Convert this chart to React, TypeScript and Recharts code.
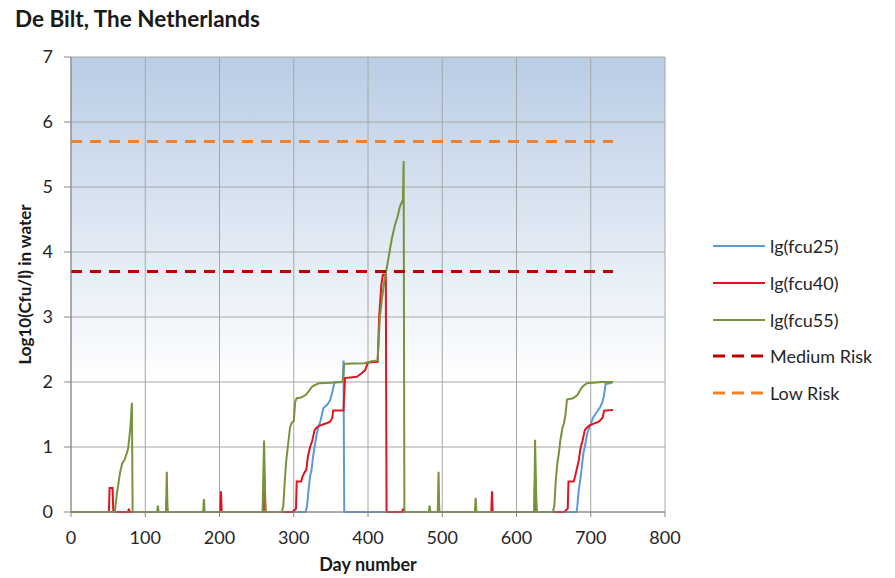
import React from 'react';
import { LineChart, Line, XAxis, YAxis, CartesianGrid } from 'recharts';

const title = 'De Bilt, The Netherlands';
const xTicks = [0, 100, 200, 300, 400, 500, 600, 700, 800];
const yTicks = [0, 1, 2, 3, 4, 5, 6, 7];

// [day, log10(cfu/l)]
const fcu25: [number, number][] = [
  [0, 0], [316, 0], [318, 0.1], [320, 0.35], [322, 0.55], [324, 0.65], [326, 0.85], [328, 1.0], [331, 1.2],
  [333, 1.3], [336, 1.4], [338, 1.5], [340, 1.6], [345, 1.65], [349, 1.72], [352, 1.85], [355, 2.0], [366, 2.0],
  [367, 2.33], [368, 0], [681, 0], [682, 0.1], [684, 0.35], [686.5, 0.55], [688, 0.7], [690, 0.9], [692, 1.0],
  [695, 1.2], [698, 1.3], [700, 1.35], [703, 1.45], [706, 1.5], [709, 1.55], [713, 1.62], [716, 1.7], [718, 1.8],
  [720, 1.97], [726, 1.98], [730, 2.0],
];

const fcu40: [number, number][] = [
  [0, 0], [51, 0], [52, 0.37], [56, 0.37], [57, 0], [77, 0], [78, 0.05], [79, 0], [128, 0], [129, 0.18], [130, 0],
  [201, 0], [202, 0.32], [203, 0], [259, 0], [260, 0.6], [262, 0], [298, 0], [300, 0.02], [303, 0.05], [304, 0.47],
  [310, 0.47], [312, 0.55], [315, 0.62], [317, 0.65], [319, 0.85], [322, 1.0], [325, 1.1], [328, 1.26], [331, 1.3],
  [335, 1.33], [340, 1.35], [345, 1.37], [349, 1.39], [352, 1.45], [353, 1.56], [367, 1.56], [369, 2.06],
  [385, 2.08], [391, 2.13], [396, 2.18], [400, 2.3], [413, 2.31], [415, 3.0], [418, 3.5], [420, 3.65], [424, 3.65],
  [425, 0], [446, 0], [447, 0.05], [448, 0], [494, 0], [495, 0.2], [496, 0], [566, 0], [567, 0.32], [568, 0],
  [624, 0], [625, 0.6], [627, 0], [664, 0], [666, 0.02], [669, 0.05], [670, 0.47], [677, 0.47], [679, 0.55],
  [681, 0.65], [684, 0.8], [686, 0.97], [689, 1.1], [692, 1.26], [695, 1.3], [698, 1.33], [704, 1.36], [711, 1.39],
  [716, 1.45], [718, 1.56], [730, 1.57],
];

const fcu55: [number, number][] = [
  [0, 0], [59, 0], [60, 0.1], [62, 0.3], [64, 0.45], [66, 0.6], [69, 0.75], [72, 0.8], [75, 0.9], [77, 0.98],
  [80, 1.3], [82, 1.68], [83, 0], [116, 0], [117, 0.1], [118, 0], [128, 0], [129, 0.62], [130, 0], [178, 0],
  [179, 0.2], [180, 0], [258, 0], [260, 1.1], [262, 0], [284, 0], [286, 0.1], [288, 0.5], [290, 0.8], [293, 1.1],
  [295, 1.3], [297, 1.37], [300, 1.4], [302, 1.7], [304, 1.75], [310, 1.76], [316, 1.8], [320, 1.85], [324, 1.92],
  [328, 1.95], [334, 1.98], [350, 1.99], [366, 2.0], [368, 2.28], [395, 2.29], [405, 2.32], [413, 2.33], [416, 3.0],
  [419, 3.3], [422, 3.55], [426, 3.8], [429, 4.0], [432, 4.2], [436, 4.4], [440, 4.55], [443, 4.7], [447, 4.8],
  [448, 5.4], [449, 0], [482, 0], [483, 0.1], [484, 0], [494, 0], [495, 0.62], [496, 0], [544, 0], [545, 0.22],
  [546, 0], [624, 0], [625, 1.11], [627, 0], [649, 0], [651, 0.1], [653, 0.5], [655, 0.75], [657, 0.9], [659, 1.1],
  [662, 1.3], [664, 1.37], [666, 1.5], [668, 1.73], [676, 1.75], [682, 1.8], [686, 1.88], [689, 1.93], [695, 1.98],
  [715, 2.0], [730, 2.0],
];

const mediumRisk: [number, number][] = [[0, 3.7], [730, 3.7]];
const lowRisk: [number, number][] = [[0, 5.7], [730, 5.7]];

const toRows = (arr: [number, number][]) => arr.map(([day, value]) => ({ day, value }));

const series = [
  { name: 'lg(fcu25)', data: fcu25, color: '#5B9BD5', width: 2, dash: undefined as string | undefined },
  { name: 'lg(fcu40)', data: fcu40, color: '#E0141E', width: 2, dash: undefined as string | undefined },
  { name: 'lg(fcu55)', data: fcu55, color: '#77933C', width: 2, dash: undefined as string | undefined },
  { name: 'Medium Risk', data: mediumRisk, color: '#C00000', width: 3, dash: '11 8' },
  { name: 'Low Risk', data: lowRisk, color: '#F0822D', width: 3, dash: '11 8' },
];

const FONT = "Lato, 'Open Sans', 'Liberation Sans', sans-serif";
const tickStyle = { fontSize: 18, fill: '#262626', fontFamily: FONT };

export default function App() {
  return (
    <div style={{ position: 'absolute', left: 0, top: 0, width: 895, height: 578, background: '#fff', fontFamily: FONT }}>
      <div style={{ position: 'absolute', left: 15, top: 5, fontSize: 22.5, fontWeight: 700, color: '#1a1a1a', whiteSpace: 'nowrap' }}>{title}</div>
      <LineChart width={895} height={578} margin={{ top: 57, right: 230, bottom: 0, left: 0 }}>
        <defs>
          <linearGradient id="plotBg" x1="0" y1="0" x2="0" y2="1">
            <stop offset="0%" stopColor="#B9CDE5" />
            <stop offset="72%" stopColor="#FFFFFF" />
            <stop offset="100%" stopColor="#FFFFFF" />
          </linearGradient>
        </defs>
        <CartesianGrid stroke="#A6A6A6" fill="url(#plotBg)" fillOpacity={1} horizontal vertical />
        <XAxis
          type="number"
          dataKey="day"
          domain={[0, 800]}
          ticks={xTicks}
          height={66}
          tickSize={5}
          tickMargin={14}
          stroke="#868686"
          tick={tickStyle}
          label={{ value: 'Day number', position: 'insideBottom', offset: 7, style: { fontSize: 18, fontWeight: 700, fill: '#1a1a1a', fontFamily: FONT } }}
        />
        <YAxis
          type="number"
          domain={[0, 7]}
          ticks={yTicks}
          width={71}
          tickSize={7}
          tickMargin={11}
          stroke="#868686"
          tick={tickStyle}
          label={{ value: 'Log10(Cfu/l) in water', angle: -90, position: 'insideLeft', offset: 25, style: { textAnchor: 'middle', fontSize: 17, fontWeight: 700, fill: '#1a1a1a', fontFamily: FONT } }}
        />
        {series.map((s) => (
          <Line
            key={s.name}
            name={s.name}
            data={toRows(s.data)}
            dataKey="value"
            type="linear"
            stroke={s.color}
            strokeWidth={s.width}
            strokeDasharray={s.dash}
            dot={false}
            activeDot={false}
            isAnimationActive={false}
          />
        ))}
      </LineChart>
      <div style={{ position: 'absolute', left: 713, top: 228 }}>
        {series.map((s) => (
          <div key={s.name} style={{ display: 'flex', alignItems: 'center', height: 36.7 }}>
            <svg width={52} height={10} style={{ marginRight: 5, flex: 'none' }}>
              <line x1={0} y1={5} x2={52} y2={5} stroke={s.color} strokeWidth={s.width} strokeDasharray={s.dash ? '12 7' : undefined} />
            </svg>
            <span style={{ fontSize: 18, color: '#262626', whiteSpace: 'nowrap' }}>{s.name}</span>
          </div>
        ))}
      </div>
    </div>
  );
}
